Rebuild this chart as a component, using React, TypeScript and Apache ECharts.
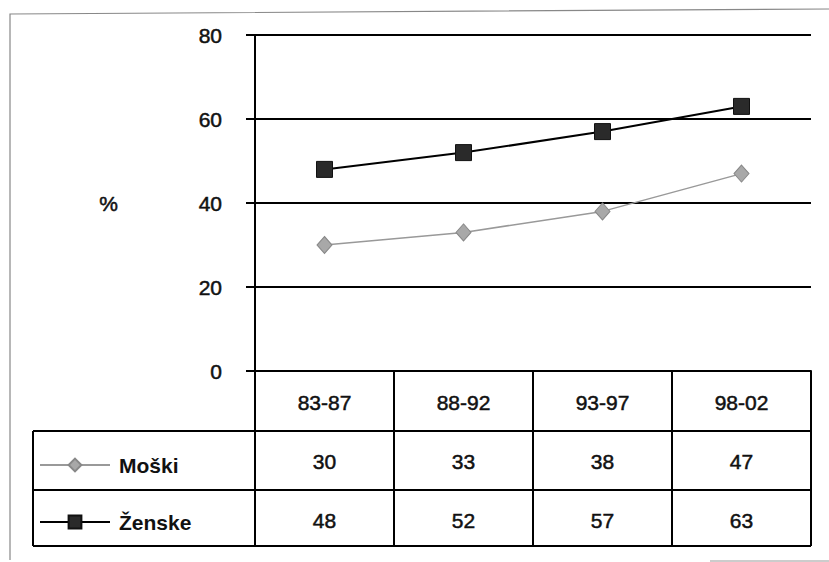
import React, { useEffect, useRef } from "react";
import * as echarts from "echarts";

const categories = ["83-87", "88-92", "93-97", "98-02"];
const moski = [30, 33, 38, 47];
const zenske = [48, 52, 57, 63];
const seriesNames = ["Moški", "Ženske"];
const yTicks = [0, 20, 40, 60, 80];

const FONT = "'Liberation Sans', Arial, Helvetica, sans-serif";
const heavy = { textBorderColor: "#111", textBorderWidth: 0.5 };

export default function App() {
  const ref = useRef<HTMLDivElement>(null);
  useEffect(() => {
    if (!ref.current) return;
    const chart = echarts.init(ref.current, null, { renderer: "svg" });
    const gl = 255, gt = 35, gw = 556, gh = 336;
    const tableBottom = 546;
    const rowLines = [431, 490, tableBottom];
    const tableLeft = 33;
    chart.setOption({
      animation: false,
      backgroundColor: "#fff",
      textStyle: { fontFamily: FONT },
      grid: { left: gl, top: gt, width: gw, height: gh },
      legend: {
        orient: "vertical",
        left: 39,
        top: 454,
        padding: 0,
        itemWidth: 70,
        itemHeight: 16,
        itemGap: 35,
        data: seriesNames,
        textStyle: { fontSize: 21, color: "#111", fontWeight: "bold", lineHeight: 22, padding: [0, 0, 0, 4], fontFamily: FONT },
      },
      xAxis: {
        type: "category",
        data: categories,
        boundaryGap: true,
        axisLine: { show: true, lineStyle: { color: "#000", width: 2 } },
        axisTick: { show: true, length: tableBottom - (gt + gh), lineStyle: { color: "#000", width: 2 } },
        axisLabel: {
          interval: 0,
          margin: 2,
          lineHeight: 59,
          fontSize: 21,
          color: "#111",
          fontFamily: FONT,
          ...heavy,
          formatter: (v: string, i: number) => `${v}\n${moski[i]}\n${zenske[i]}`,
        },
      },
      yAxis: {
        type: "value",
        min: yTicks[0],
        max: yTicks[yTicks.length - 1],
        interval: 20,
        name: "%",
        nameLocation: "middle",
        nameRotate: 0,
        nameGap: 137,
        nameTextStyle: { fontSize: 21, color: "#111", fontFamily: FONT, ...heavy },
        axisLine: { show: true, lineStyle: { color: "#000", width: 2 } },
        axisTick: { show: true, inside: false, length: 9, lineStyle: { color: "#000", width: 2 } },
        axisLabel: { margin: 33, fontSize: 21, color: "#111", fontFamily: FONT, ...heavy },
        splitLine: { show: true, lineStyle: { color: "#000", width: 2 } },
      },
      series: [
        {
          name: seriesNames[0],
          type: "line",
          data: moski,
          symbol: "diamond",
          symbolSize: [15, 17],
          itemStyle: { color: "#a8a8a8", borderColor: "#888", borderWidth: 1 },
          lineStyle: { color: "#999", width: 1.5 },
          z: 3,
        },
        {
          name: seriesNames[1],
          type: "line",
          data: zenske,
          symbol: "rect",
          symbolSize: 16,
          itemStyle: { color: "#2a2a2a", borderColor: "#111", borderWidth: 1 },
          lineStyle: { color: "#000", width: 2 },
          z: 3,
        },
      ],
      graphic: [
        ...rowLines.map((y) => ({
          type: "line",
          shape: { x1: tableLeft, y1: y, x2: gl + gw, y2: y },
          style: { stroke: "#000", lineWidth: 2 },
        })),
        {
          type: "line",
          shape: { x1: tableLeft, y1: rowLines[0], x2: tableLeft, y2: tableBottom },
          style: { stroke: "#000", lineWidth: 2 },
        },
        {
          type: "polyline",
          shape: { points: [[10, 560], [10, 14], [829, 9]] },
          style: { stroke: "#888", lineWidth: 1.2, fill: "none" },
        },
        {
          type: "line",
          shape: { x1: 710, y1: 561, x2: 829, y2: 561 },
          style: { stroke: "#999", lineWidth: 1.2 },
        },
      ],
    });
    return () => chart.dispose();
  }, []);
  return <div ref={ref} style={{ width: 829, height: 562, position: "absolute", left: 0, top: 0 }} />;
}
